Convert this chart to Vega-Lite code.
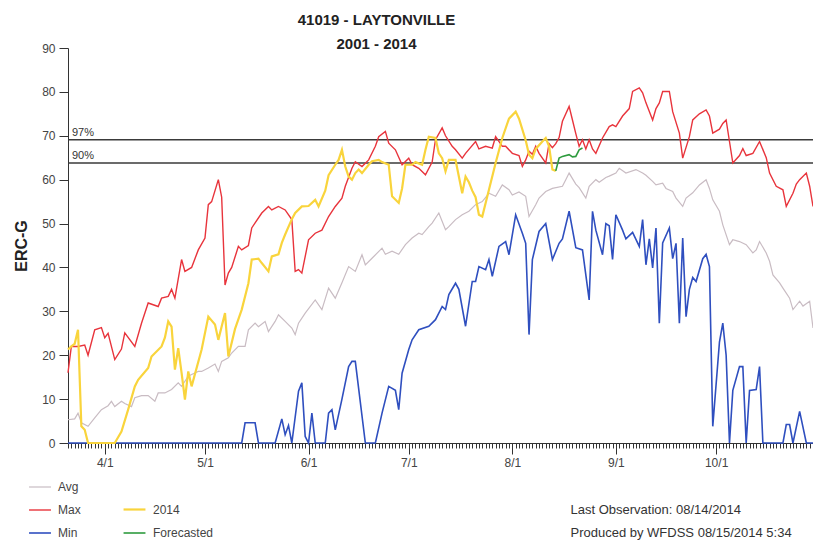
{
  "$schema": "https://vega.github.io/schema/vega-lite/v6.json",
  "width": 745,
  "height": 395,
  "autosize": "none",
  "padding": {"left": 68, "top": 48, "right": 0, "bottom": 98},
  "background": "white",
  "title": {
    "text": ["41019 - LAYTONVILLE", "2001 - 2014"],
    "anchor": "middle",
    "dx": -64,
    "offset": -22,
    "baseline": "alphabetic",
    "lineHeight": 24,
    "fontSize": 15,
    "fontWeight": "bold",
    "color": "#222",
    "font": "Liberation Sans"
  },
  "config": {
    "font": "Liberation Sans",
    "view": {"stroke": null},
    "axis": {"grid": false, "labelFont": "Liberation Sans", "titleFont": "Liberation Sans"},
    "legend": {"labelFont": "Liberation Sans"}
  },
  "datasets": {
    "a": [
      {"s":"Avg","d":"2014-03-21","v":5.3},{"s":"Avg","d":"2014-03-23","v":5.5},{"s":"Avg","d":"2014-03-24","v":6.8},{"s":"Avg","d":"2014-03-25","v":4.6},{"s":"Avg","d":"2014-03-27","v":3.8},{"s":"Avg","d":"2014-03-29","v":5.7},{"s":"Avg","d":"2014-03-31","v":7.6},{"s":"Avg","d":"2014-04-02","v":8.5},{"s":"Avg","d":"2014-04-03","v":9.5},{"s":"Avg","d":"2014-04-04","v":8.3},{"s":"Avg","d":"2014-04-06","v":9.5},{"s":"Avg","d":"2014-04-07","v":9},{"s":"Avg","d":"2014-04-09","v":8.3},{"s":"Avg","d":"2014-04-10","v":10.3},{"s":"Avg","d":"2014-04-12","v":10.8},{"s":"Avg","d":"2014-04-14","v":10.8},{"s":"Avg","d":"2014-04-16","v":9.5},{"s":"Avg","d":"2014-04-17","v":11.4},{"s":"Avg","d":"2014-04-19","v":11.4},{"s":"Avg","d":"2014-04-21","v":12.2},{"s":"Avg","d":"2014-04-23","v":13.7},{"s":"Avg","d":"2014-04-24","v":12.9},{"s":"Avg","d":"2014-04-26","v":15.2},{"s":"Avg","d":"2014-04-27","v":15.6},{"s":"Avg","d":"2014-04-29","v":16.3},{"s":"Avg","d":"2014-04-30","v":16.3},{"s":"Avg","d":"2014-05-02","v":17.1},{"s":"Avg","d":"2014-05-04","v":18},{"s":"Avg","d":"2014-05-05","v":16.3},{"s":"Avg","d":"2014-05-06","v":18.6},{"s":"Avg","d":"2014-05-08","v":19.4},{"s":"Avg","d":"2014-05-09","v":20.5},{"s":"Avg","d":"2014-05-11","v":22},{"s":"Avg","d":"2014-05-13","v":22},{"s":"Avg","d":"2014-05-14","v":25.8},{"s":"Avg","d":"2014-05-16","v":27.3},{"s":"Avg","d":"2014-05-17","v":26.5},{"s":"Avg","d":"2014-05-19","v":27.7},{"s":"Avg","d":"2014-05-20","v":25.4},{"s":"Avg","d":"2014-05-22","v":27.7},{"s":"Avg","d":"2014-05-23","v":29.2},{"s":"Avg","d":"2014-05-25","v":27.7},{"s":"Avg","d":"2014-05-27","v":26.2},{"s":"Avg","d":"2014-05-28","v":24.7},{"s":"Avg","d":"2014-05-29","v":27.3},{"s":"Avg","d":"2014-05-31","v":29.6},{"s":"Avg","d":"2014-06-03","v":32.6},{"s":"Avg","d":"2014-06-05","v":30.4},{"s":"Avg","d":"2014-06-07","v":35.3},{"s":"Avg","d":"2014-06-09","v":33},{"s":"Avg","d":"2014-06-11","v":36.5},{"s":"Avg","d":"2014-06-13","v":40.2},{"s":"Avg","d":"2014-06-15","v":39.1},{"s":"Avg","d":"2014-06-17","v":42.9},{"s":"Avg","d":"2014-06-18","v":40.6},{"s":"Avg","d":"2014-06-20","v":42.1},{"s":"Avg","d":"2014-06-23","v":44.4},{"s":"Avg","d":"2014-06-24","v":43},{"s":"Avg","d":"2014-06-26","v":43.7},{"s":"Avg","d":"2014-06-28","v":43},{"s":"Avg","d":"2014-06-30","v":45.2},{"s":"Avg","d":"2014-07-02","v":46.7},{"s":"Avg","d":"2014-07-04","v":47.8},{"s":"Avg","d":"2014-07-05","v":47.5},{"s":"Avg","d":"2014-07-07","v":49.3},{"s":"Avg","d":"2014-07-08","v":50.1},{"s":"Avg","d":"2014-07-10","v":52.4},{"s":"Avg","d":"2014-07-12","v":48.6},{"s":"Avg","d":"2014-07-13","v":49.3},{"s":"Avg","d":"2014-07-15","v":50.9},{"s":"Avg","d":"2014-07-17","v":52},{"s":"Avg","d":"2014-07-19","v":52.8},{"s":"Avg","d":"2014-07-21","v":54.3},{"s":"Avg","d":"2014-07-23","v":55},{"s":"Avg","d":"2014-07-25","v":56.9},{"s":"Avg","d":"2014-07-27","v":56.2},{"s":"Avg","d":"2014-07-29","v":58.8},{"s":"Avg","d":"2014-07-31","v":57.7},{"s":"Avg","d":"2014-08-01","v":56.5},{"s":"Avg","d":"2014-08-03","v":57.2},{"s":"Avg","d":"2014-08-05","v":56.2},{"s":"Avg","d":"2014-08-06","v":51.6},{"s":"Avg","d":"2014-08-08","v":54.3},{"s":"Avg","d":"2014-08-09","v":55.8},{"s":"Avg","d":"2014-08-11","v":57.3},{"s":"Avg","d":"2014-08-13","v":58},{"s":"Avg","d":"2014-08-16","v":58.5},{"s":"Avg","d":"2014-08-17","v":60},{"s":"Avg","d":"2014-08-18","v":61.5},{"s":"Avg","d":"2014-08-20","v":59},{"s":"Avg","d":"2014-08-21","v":58.2},{"s":"Avg","d":"2014-08-23","v":55.8},{"s":"Avg","d":"2014-08-24","v":58.5},{"s":"Avg","d":"2014-08-26","v":60},{"s":"Avg","d":"2014-08-27","v":59.4},{"s":"Avg","d":"2014-08-29","v":60.5},{"s":"Avg","d":"2014-08-30","v":60.8},{"s":"Avg","d":"2014-09-01","v":61.5},{"s":"Avg","d":"2014-09-02","v":62.6},{"s":"Avg","d":"2014-09-04","v":61.5},{"s":"Avg","d":"2014-09-07","v":62.3},{"s":"Avg","d":"2014-09-09","v":61.5},{"s":"Avg","d":"2014-09-10","v":61},{"s":"Avg","d":"2014-09-12","v":59.6},{"s":"Avg","d":"2014-09-13","v":58.8},{"s":"Avg","d":"2014-09-15","v":59.2},{"s":"Avg","d":"2014-09-16","v":58},{"s":"Avg","d":"2014-09-18","v":57.3},{"s":"Avg","d":"2014-09-19","v":55.8},{"s":"Avg","d":"2014-09-21","v":53.9},{"s":"Avg","d":"2014-09-22","v":55.8},{"s":"Avg","d":"2014-09-24","v":57},{"s":"Avg","d":"2014-09-26","v":58.8},{"s":"Avg","d":"2014-09-28","v":60},{"s":"Avg","d":"2014-09-29","v":58},{"s":"Avg","d":"2014-09-30","v":55.4},{"s":"Avg","d":"2014-10-02","v":52.8},{"s":"Avg","d":"2014-10-03","v":49.7},{"s":"Avg","d":"2014-10-05","v":45.2},{"s":"Avg","d":"2014-10-06","v":46.3},{"s":"Avg","d":"2014-10-08","v":45.9},{"s":"Avg","d":"2014-10-10","v":45.2},{"s":"Avg","d":"2014-10-12","v":43.3},{"s":"Avg","d":"2014-10-13","v":44},{"s":"Avg","d":"2014-10-14","v":45.9},{"s":"Avg","d":"2014-10-16","v":43.3},{"s":"Avg","d":"2014-10-17","v":41.4},{"s":"Avg","d":"2014-10-18","v":38.3},{"s":"Avg","d":"2014-10-20","v":36.5},{"s":"Avg","d":"2014-10-21","v":35.3},{"s":"Avg","d":"2014-10-23","v":33},{"s":"Avg","d":"2014-10-24","v":30.4},{"s":"Avg","d":"2014-10-26","v":32.3},{"s":"Avg","d":"2014-10-27","v":31.2},{"s":"Avg","d":"2014-10-29","v":32.3},{"s":"Avg","d":"2014-10-30","v":26.2},
      {"s":"Min","d":"2014-03-21","v":0},{"s":"Min","d":"2014-05-12","v":0},{"s":"Min","d":"2014-05-13","v":4.6},{"s":"Min","d":"2014-05-16","v":4.6},{"s":"Min","d":"2014-05-17","v":0},{"s":"Min","d":"2014-05-22","v":0},{"s":"Min","d":"2014-05-24","v":5.5},{"s":"Min","d":"2014-05-25","v":1.9},{"s":"Min","d":"2014-05-26","v":4},{"s":"Min","d":"2014-05-27","v":0},{"s":"Min","d":"2014-05-29","v":11.8},{"s":"Min","d":"2014-05-30","v":13.7},{"s":"Min","d":"2014-05-31","v":1.5},{"s":"Min","d":"2014-06-01","v":0},{"s":"Min","d":"2014-06-02","v":6.8},{"s":"Min","d":"2014-06-03","v":0},{"s":"Min","d":"2014-06-06","v":0},{"s":"Min","d":"2014-06-07","v":6.8},{"s":"Min","d":"2014-06-08","v":7.6},{"s":"Min","d":"2014-06-09","v":3},{"s":"Min","d":"2014-06-11","v":10},{"s":"Min","d":"2014-06-13","v":17.4},{"s":"Min","d":"2014-06-14","v":18.6},{"s":"Min","d":"2014-06-15","v":18.6},{"s":"Min","d":"2014-06-18","v":0},{"s":"Min","d":"2014-06-21","v":0},{"s":"Min","d":"2014-06-23","v":6.8},{"s":"Min","d":"2014-06-25","v":12.9},{"s":"Min","d":"2014-06-27","v":12},{"s":"Min","d":"2014-06-28","v":7.6},{"s":"Min","d":"2014-06-29","v":15.9},{"s":"Min","d":"2014-07-01","v":21.3},{"s":"Min","d":"2014-07-02","v":23.5},{"s":"Min","d":"2014-07-04","v":25.8},{"s":"Min","d":"2014-07-07","v":26.6},{"s":"Min","d":"2014-07-09","v":28.1},{"s":"Min","d":"2014-07-11","v":31.1},{"s":"Min","d":"2014-07-12","v":30.4},{"s":"Min","d":"2014-07-13","v":33.8},{"s":"Min","d":"2014-07-15","v":36.4},{"s":"Min","d":"2014-07-16","v":35},{"s":"Min","d":"2014-07-18","v":26.6},{"s":"Min","d":"2014-07-20","v":36.8},{"s":"Min","d":"2014-07-21","v":36.8},{"s":"Min","d":"2014-07-22","v":40.2},{"s":"Min","d":"2014-07-24","v":39.5},{"s":"Min","d":"2014-07-25","v":41.8},{"s":"Min","d":"2014-07-26","v":38},{"s":"Min","d":"2014-07-28","v":44.8},{"s":"Min","d":"2014-07-30","v":45.9},{"s":"Min","d":"2014-07-31","v":42.9},{"s":"Min","d":"2014-08-02","v":52},{"s":"Min","d":"2014-08-04","v":47.8},{"s":"Min","d":"2014-08-05","v":45.5},{"s":"Min","d":"2014-08-06","v":24.7},{"s":"Min","d":"2014-08-07","v":41.8},{"s":"Min","d":"2014-08-09","v":48.2},{"s":"Min","d":"2014-08-11","v":50},{"s":"Min","d":"2014-08-13","v":41.8},{"s":"Min","d":"2014-08-15","v":45.5},{"s":"Min","d":"2014-08-16","v":46.5},{"s":"Min","d":"2014-08-18","v":52.8},{"s":"Min","d":"2014-08-20","v":44.5},{"s":"Min","d":"2014-08-22","v":44},{"s":"Min","d":"2014-08-24","v":32.6},{"s":"Min","d":"2014-08-25","v":52.8},{"s":"Min","d":"2014-08-26","v":48.5},{"s":"Min","d":"2014-08-28","v":42.9},{"s":"Min","d":"2014-08-29","v":50},{"s":"Min","d":"2014-08-30","v":49.5},{"s":"Min","d":"2014-08-31","v":41.8},{"s":"Min","d":"2014-09-01","v":52},{"s":"Min","d":"2014-09-03","v":48.5},{"s":"Min","d":"2014-09-04","v":46.5},{"s":"Min","d":"2014-09-06","v":48},{"s":"Min","d":"2014-09-08","v":44.8},{"s":"Min","d":"2014-09-09","v":50.9},{"s":"Min","d":"2014-09-10","v":40.6},{"s":"Min","d":"2014-09-11","v":46.5},{"s":"Min","d":"2014-09-12","v":39.9},{"s":"Min","d":"2014-09-13","v":49},{"s":"Min","d":"2014-09-14","v":27.3},{"s":"Min","d":"2014-09-15","v":45.6},{"s":"Min","d":"2014-09-17","v":49},{"s":"Min","d":"2014-09-18","v":42},{"s":"Min","d":"2014-09-19","v":45.5},{"s":"Min","d":"2014-09-20","v":27.3},{"s":"Min","d":"2014-09-21","v":46.7},{"s":"Min","d":"2014-09-22","v":28.8},{"s":"Min","d":"2014-09-23","v":35},{"s":"Min","d":"2014-09-24","v":37.7},{"s":"Min","d":"2014-09-25","v":36.8},{"s":"Min","d":"2014-09-27","v":42},{"s":"Min","d":"2014-09-28","v":43},{"s":"Min","d":"2014-09-29","v":40.2},{"s":"Min","d":"2014-09-30","v":3.8},{"s":"Min","d":"2014-10-02","v":23},{"s":"Min","d":"2014-10-03","v":27.3},{"s":"Min","d":"2014-10-04","v":20},{"s":"Min","d":"2014-10-05","v":0},{"s":"Min","d":"2014-10-06","v":12},{"s":"Min","d":"2014-10-08","v":17.4},{"s":"Min","d":"2014-10-09","v":17.4},{"s":"Min","d":"2014-10-10","v":0},{"s":"Min","d":"2014-10-11","v":12},{"s":"Min","d":"2014-10-13","v":12.2},{"s":"Min","d":"2014-10-14","v":17.4},{"s":"Min","d":"2014-10-15","v":0},{"s":"Min","d":"2014-10-21","v":0},{"s":"Min","d":"2014-10-22","v":4.2},{"s":"Min","d":"2014-10-23","v":4.2},{"s":"Min","d":"2014-10-24","v":0},{"s":"Min","d":"2014-10-26","v":7.2},{"s":"Min","d":"2014-10-28","v":0},{"s":"Min","d":"2014-10-30","v":0},
      {"s":"Max","d":"2014-03-21","v":16},{"s":"Max","d":"2014-03-22","v":22},{"s":"Max","d":"2014-03-24","v":22},{"s":"Max","d":"2014-03-26","v":22.3},{"s":"Max","d":"2014-03-27","v":20},{"s":"Max","d":"2014-03-29","v":25.8},{"s":"Max","d":"2014-03-31","v":26.3},{"s":"Max","d":"2014-04-01","v":24},{"s":"Max","d":"2014-04-02","v":25},{"s":"Max","d":"2014-04-04","v":19},{"s":"Max","d":"2014-04-06","v":21.4},{"s":"Max","d":"2014-04-07","v":25.1},{"s":"Max","d":"2014-04-10","v":22},{"s":"Max","d":"2014-04-12","v":27.3},{"s":"Max","d":"2014-04-14","v":31.9},{"s":"Max","d":"2014-04-17","v":31.1},{"s":"Max","d":"2014-04-18","v":33},{"s":"Max","d":"2014-04-20","v":33.4},{"s":"Max","d":"2014-04-21","v":35},{"s":"Max","d":"2014-04-22","v":33},{"s":"Max","d":"2014-04-24","v":41.8},{"s":"Max","d":"2014-04-25","v":39.1},{"s":"Max","d":"2014-04-27","v":40},{"s":"Max","d":"2014-04-29","v":44},{"s":"Max","d":"2014-05-01","v":46.7},{"s":"Max","d":"2014-05-02","v":54.3},{"s":"Max","d":"2014-05-03","v":55},{"s":"Max","d":"2014-05-05","v":60},{"s":"Max","d":"2014-05-06","v":56},{"s":"Max","d":"2014-05-07","v":36},{"s":"Max","d":"2014-05-08","v":38.7},{"s":"Max","d":"2014-05-09","v":40},{"s":"Max","d":"2014-05-11","v":44.8},{"s":"Max","d":"2014-05-12","v":44},{"s":"Max","d":"2014-05-14","v":45},{"s":"Max","d":"2014-05-15","v":49},{"s":"Max","d":"2014-05-18","v":52.4},{"s":"Max","d":"2014-05-20","v":53.9},{"s":"Max","d":"2014-05-21","v":53.1},{"s":"Max","d":"2014-05-23","v":53.9},{"s":"Max","d":"2014-05-25","v":53.1},{"s":"Max","d":"2014-05-27","v":50.9},{"s":"Max","d":"2014-05-28","v":39.1},{"s":"Max","d":"2014-05-29","v":39.5},{"s":"Max","d":"2014-05-30","v":38.7},{"s":"Max","d":"2014-06-01","v":46.3},{"s":"Max","d":"2014-06-03","v":47.8},{"s":"Max","d":"2014-06-05","v":48.5},{"s":"Max","d":"2014-06-07","v":51.6},{"s":"Max","d":"2014-06-09","v":53.9},{"s":"Max","d":"2014-06-11","v":55.8},{"s":"Max","d":"2014-06-12","v":58.5},{"s":"Max","d":"2014-06-14","v":62.6},{"s":"Max","d":"2014-06-15","v":64.1},{"s":"Max","d":"2014-06-17","v":63},{"s":"Max","d":"2014-06-19","v":64.5},{"s":"Max","d":"2014-06-21","v":67.6},{"s":"Max","d":"2014-06-22","v":69.8},{"s":"Max","d":"2014-06-24","v":71},{"s":"Max","d":"2014-06-25","v":68.3},{"s":"Max","d":"2014-06-27","v":66.8},{"s":"Max","d":"2014-06-29","v":63.4},{"s":"Max","d":"2014-07-01","v":64.9},{"s":"Max","d":"2014-07-02","v":63.4},{"s":"Max","d":"2014-07-04","v":62.6},{"s":"Max","d":"2014-07-06","v":61.1},{"s":"Max","d":"2014-07-08","v":64},{"s":"Max","d":"2014-07-09","v":69.1},{"s":"Max","d":"2014-07-11","v":71.8},{"s":"Max","d":"2014-07-12","v":70},{"s":"Max","d":"2014-07-14","v":67.6},{"s":"Max","d":"2014-07-15","v":66.8},{"s":"Max","d":"2014-07-17","v":64.9},{"s":"Max","d":"2014-07-18","v":66},{"s":"Max","d":"2014-07-21","v":68.7},{"s":"Max","d":"2014-07-22","v":67},{"s":"Max","d":"2014-07-24","v":67.6},{"s":"Max","d":"2014-07-26","v":67.2},{"s":"Max","d":"2014-07-27","v":69.8},{"s":"Max","d":"2014-07-29","v":67.6},{"s":"Max","d":"2014-07-30","v":67.6},{"s":"Max","d":"2014-08-01","v":66},{"s":"Max","d":"2014-08-03","v":65.5},{"s":"Max","d":"2014-08-04","v":63},{"s":"Max","d":"2014-08-05","v":64.5},{"s":"Max","d":"2014-08-06","v":66.5},{"s":"Max","d":"2014-08-07","v":65.8},{"s":"Max","d":"2014-08-08","v":67.6},{"s":"Max","d":"2014-08-09","v":66},{"s":"Max","d":"2014-08-11","v":63.8},{"s":"Max","d":"2014-08-12","v":68.2},{"s":"Max","d":"2014-08-13","v":67.3},{"s":"Max","d":"2014-08-14","v":68.2},{"s":"Max","d":"2014-08-15","v":69.6},{"s":"Max","d":"2014-08-16","v":73.3},{"s":"Max","d":"2014-08-18","v":76.7},{"s":"Max","d":"2014-08-19","v":73.6},{"s":"Max","d":"2014-08-20","v":70.5},{"s":"Max","d":"2014-08-21","v":67.6},{"s":"Max","d":"2014-08-22","v":69.1},{"s":"Max","d":"2014-08-23","v":67},{"s":"Max","d":"2014-08-24","v":69.1},{"s":"Max","d":"2014-08-25","v":67},{"s":"Max","d":"2014-08-26","v":66},{"s":"Max","d":"2014-08-28","v":69.5},{"s":"Max","d":"2014-08-30","v":72.1},{"s":"Max","d":"2014-08-31","v":72.5},{"s":"Max","d":"2014-09-01","v":72.1},{"s":"Max","d":"2014-09-03","v":74.5},{"s":"Max","d":"2014-09-05","v":76.2},{"s":"Max","d":"2014-09-06","v":80.1},{"s":"Max","d":"2014-09-08","v":80.9},{"s":"Max","d":"2014-09-09","v":79.8},{"s":"Max","d":"2014-09-10","v":77.5},{"s":"Max","d":"2014-09-12","v":73.6},{"s":"Max","d":"2014-09-13","v":76.2},{"s":"Max","d":"2014-09-14","v":77.5},{"s":"Max","d":"2014-09-15","v":80.1},{"s":"Max","d":"2014-09-17","v":80.1},{"s":"Max","d":"2014-09-18","v":75.5},{"s":"Max","d":"2014-09-20","v":70.6},{"s":"Max","d":"2014-09-21","v":64.9},{"s":"Max","d":"2014-09-23","v":69.8},{"s":"Max","d":"2014-09-24","v":73.6},{"s":"Max","d":"2014-09-26","v":75},{"s":"Max","d":"2014-09-28","v":75.9},{"s":"Max","d":"2014-09-29","v":74.5},{"s":"Max","d":"2014-09-30","v":70.6},{"s":"Max","d":"2014-10-02","v":71.5},{"s":"Max","d":"2014-10-03","v":72.8},{"s":"Max","d":"2014-10-04","v":73.6},{"s":"Max","d":"2014-10-05","v":68.7},{"s":"Max","d":"2014-10-06","v":63.8},{"s":"Max","d":"2014-10-08","v":65.5},{"s":"Max","d":"2014-10-09","v":67.1},{"s":"Max","d":"2014-10-10","v":65.5},{"s":"Max","d":"2014-10-12","v":66},{"s":"Max","d":"2014-10-14","v":68.7},{"s":"Max","d":"2014-10-16","v":65},{"s":"Max","d":"2014-10-17","v":61.5},{"s":"Max","d":"2014-10-19","v":58.5},{"s":"Max","d":"2014-10-21","v":57.7},{"s":"Max","d":"2014-10-22","v":53.9},{"s":"Max","d":"2014-10-24","v":56.9},{"s":"Max","d":"2014-10-25","v":59},{"s":"Max","d":"2014-10-26","v":60},{"s":"Max","d":"2014-10-28","v":61.5},{"s":"Max","d":"2014-10-29","v":58.5},{"s":"Max","d":"2014-10-30","v":53.9}
    ],
    "b": [
      {"s":"2014","d":"2014-03-21","v":21.3},{"s":"2014","d":"2014-03-22","v":22},{"s":"2014","d":"2014-03-23","v":22.6},{"s":"2014","d":"2014-03-24","v":25.8},{"s":"2014","d":"2014-03-25","v":3.8},{"s":"2014","d":"2014-03-26","v":3},{"s":"2014","d":"2014-03-27","v":0},{"s":"2014","d":"2014-04-04","v":0},{"s":"2014","d":"2014-04-06","v":2.6},{"s":"2014","d":"2014-04-08","v":7.6},{"s":"2014","d":"2014-04-10","v":12.9},{"s":"2014","d":"2014-04-11","v":14.4},{"s":"2014","d":"2014-04-14","v":17.1},{"s":"2014","d":"2014-04-15","v":19.7},{"s":"2014","d":"2014-04-18","v":22},{"s":"2014","d":"2014-04-19","v":24},{"s":"2014","d":"2014-04-20","v":27.7},{"s":"2014","d":"2014-04-21","v":26.5},{"s":"2014","d":"2014-04-22","v":16.7},{"s":"2014","d":"2014-04-23","v":21.6},{"s":"2014","d":"2014-04-24","v":16},{"s":"2014","d":"2014-04-25","v":9.9},{"s":"2014","d":"2014-04-26","v":16.3},{"s":"2014","d":"2014-04-27","v":12.9},{"s":"2014","d":"2014-04-30","v":21.3},{"s":"2014","d":"2014-05-02","v":28.8},{"s":"2014","d":"2014-05-04","v":27},{"s":"2014","d":"2014-05-05","v":23.5},{"s":"2014","d":"2014-05-07","v":29.6},{"s":"2014","d":"2014-05-08","v":19.7},{"s":"2014","d":"2014-05-10","v":26},{"s":"2014","d":"2014-05-12","v":30.4},{"s":"2014","d":"2014-05-14","v":36.4},{"s":"2014","d":"2014-05-15","v":41.8},{"s":"2014","d":"2014-05-17","v":42},{"s":"2014","d":"2014-05-18","v":41},{"s":"2014","d":"2014-05-20","v":39.1},{"s":"2014","d":"2014-05-21","v":42.5},{"s":"2014","d":"2014-05-23","v":43},{"s":"2014","d":"2014-05-24","v":45.6},{"s":"2014","d":"2014-05-25","v":47.5},{"s":"2014","d":"2014-05-27","v":51},{"s":"2014","d":"2014-05-28","v":52.4},{"s":"2014","d":"2014-05-30","v":53.9},{"s":"2014","d":"2014-06-01","v":54},{"s":"2014","d":"2014-06-03","v":55.4},{"s":"2014","d":"2014-06-04","v":53.9},{"s":"2014","d":"2014-06-06","v":57.5},{"s":"2014","d":"2014-06-07","v":61},{"s":"2014","d":"2014-06-09","v":63.4},{"s":"2014","d":"2014-06-10","v":64.5},{"s":"2014","d":"2014-06-11","v":66.8},{"s":"2014","d":"2014-06-12","v":63},{"s":"2014","d":"2014-06-13","v":60.7},{"s":"2014","d":"2014-06-14","v":60},{"s":"2014","d":"2014-06-15","v":61.5},{"s":"2014","d":"2014-06-16","v":62.3},{"s":"2014","d":"2014-06-17","v":61.5},{"s":"2014","d":"2014-06-19","v":63.4},{"s":"2014","d":"2014-06-20","v":64.2},{"s":"2014","d":"2014-06-22","v":64.5},{"s":"2014","d":"2014-06-23","v":64},{"s":"2014","d":"2014-06-25","v":63.4},{"s":"2014","d":"2014-06-26","v":56.2},{"s":"2014","d":"2014-06-28","v":54.7},{"s":"2014","d":"2014-06-29","v":58},{"s":"2014","d":"2014-06-30","v":63.4},{"s":"2014","d":"2014-07-02","v":63.4},{"s":"2014","d":"2014-07-03","v":64},{"s":"2014","d":"2014-07-05","v":63.4},{"s":"2014","d":"2014-07-06","v":66.8},{"s":"2014","d":"2014-07-07","v":69.8},{"s":"2014","d":"2014-07-09","v":69.5},{"s":"2014","d":"2014-07-10","v":66},{"s":"2014","d":"2014-07-11","v":64.9},{"s":"2014","d":"2014-07-12","v":61.9},{"s":"2014","d":"2014-07-13","v":64.5},{"s":"2014","d":"2014-07-15","v":64.5},{"s":"2014","d":"2014-07-17","v":56.9},{"s":"2014","d":"2014-07-18","v":60.7},{"s":"2014","d":"2014-07-19","v":59.4},{"s":"2014","d":"2014-07-20","v":57.5},{"s":"2014","d":"2014-07-21","v":56},{"s":"2014","d":"2014-07-22","v":52},{"s":"2014","d":"2014-07-23","v":51.6},{"s":"2014","d":"2014-07-25","v":57.7},{"s":"2014","d":"2014-07-27","v":63.8},{"s":"2014","d":"2014-07-29","v":69.5},{"s":"2014","d":"2014-07-31","v":73.9},{"s":"2014","d":"2014-08-02","v":75.5},{"s":"2014","d":"2014-08-03","v":73.9},{"s":"2014","d":"2014-08-05","v":69},{"s":"2014","d":"2014-08-06","v":65.7},{"s":"2014","d":"2014-08-07","v":64.9},{"s":"2014","d":"2014-08-08","v":67},{"s":"2014","d":"2014-08-10","v":68.7},{"s":"2014","d":"2014-08-11","v":69.5},{"s":"2014","d":"2014-08-12","v":67.6},{"s":"2014","d":"2014-08-13","v":62.3},{"s":"2014","d":"2014-08-14","v":62},
      {"s":"Forecasted","d":"2014-08-14","v":62},{"s":"Forecasted","d":"2014-08-15","v":64.9},{"s":"Forecasted","d":"2014-08-16","v":65.3},{"s":"Forecasted","d":"2014-08-18","v":65.7},{"s":"Forecasted","d":"2014-08-19","v":65.2},{"s":"Forecasted","d":"2014-08-20","v":65.3},{"s":"Forecasted","d":"2014-08-21","v":66.8},{"s":"Forecasted","d":"2014-08-22","v":67.2}
    ],
    "p": [
      {"p":"97%","d":"2014-03-21","v":69.1},
      {"p":"90%","d":"2014-03-21","v":63.8}
    ]
  },
  "layer": [
    {
      "data": {"name": "p"},
      "mark": {"type": "rule", "color": "#3a3a3a", "strokeWidth": 1.4},
      "encoding": {
        "y": {"field": "v", "type": "quantitative", "scale": {"domain": [0, 90]}}
      }
    },
    {
      "data": {"name": "p"},
      "mark": {"type": "text", "align": "left", "baseline": "bottom", "dx": 4, "dy": -2, "fontSize": 11, "color": "#333"},
      "encoding": {
        "x": {"field": "d", "type": "temporal", "axis": null},
        "y": {"field": "v", "type": "quantitative"},
        "text": {"field": "p"}
      }
    },
    {
      "data": {"name": "a"},
      "mark": {"type": "line", "interpolate": "linear"},
      "encoding": {
        "x": {
          "field": "d", "type": "temporal",
          "scale": {"type": "utc", "domain": [{"year": 2014, "month": 3, "date": 21, "utc": true}, {"year": 2014, "month": 10, "date": 30, "utc": true}]},
          "axis": {"orient": "bottom", "tickCount": {"interval": "day", "step": 1}, "labels": false, "tickSize": 5, "tickColor": "#333", "domainColor": "#333", "title": null, "grid": false}
        },
        "y": {
          "field": "v", "type": "quantitative",
          "scale": {"domain": [0, 90]},
          "axis": {"values": [0, 10, 20, 30, 40, 50, 60, 70, 80, 90], "tickSize": 9, "labelPadding": 4, "labelFontSize": 12, "labelColor": "#444", "tickColor": "#333", "domainColor": "#333", "title": "ERC-G", "titleFontSize": 16, "titleFontWeight": "bold", "titleColor": "#222", "titlePadding": 12, "grid": false}
        },
        "color": {
          "field": "s", "type": "nominal",
          "scale": {"domain": ["Avg", "Max", "Min"], "range": ["#c9bcc3", "#e8343c", "#2f4fbf"]},
          "legend": {"orient": "none", "legendX": -40, "legendY": 427, "title": null, "symbolType": "stroke", "symbolSize": 480, "symbolStrokeWidth": 2, "labelFontSize": 12, "labelColor": "#444", "labelOffset": 6, "rowPadding": 5}
        },
        "strokeWidth": {
          "field": "s", "type": "nominal",
          "scale": {"domain": ["Avg", "Max", "Min"], "range": [1.2, 1.6, 1.6]},
          "legend": null
        }
      }
    },
    {
      "data": {"name": "b"},
      "mark": {"type": "line", "interpolate": "linear"},
      "encoding": {
        "x": {
          "field": "d", "type": "temporal",
          "axis": {
            "orient": "bottom",
            "values": [
              {"year": 2014, "month": 4, "date": 1, "utc": true},
              {"year": 2014, "month": 5, "date": 1, "utc": true},
              {"year": 2014, "month": 6, "date": 1, "utc": true},
              {"year": 2014, "month": 7, "date": 1, "utc": true},
              {"year": 2014, "month": 8, "date": 1, "utc": true},
              {"year": 2014, "month": 9, "date": 1, "utc": true},
              {"year": 2014, "month": 10, "date": 1, "utc": true}
            ],
            "format": "%-m/%-d",
            "tickSize": 11, "tickColor": "#333", "domain": false,
            "labelFontSize": 12, "labelColor": "#444", "labelPadding": 3,
            "title": ["Last Observation: 08/14/2014", "Produced by WFDSS 08/15/2014 5:34"],
            "titleX": 502, "titleY": 60, "titleAlign": "left", "titleBaseline": "top", "titleAnchor": "start",
            "titleFontSize": 13, "titleFontWeight": "normal", "titleColor": "#333", "titleLineHeight": 23,
            "grid": false
          }
        },
        "y": {"field": "v", "type": "quantitative"},
        "color": {
          "field": "s", "type": "nominal",
          "scale": {"domain": ["2014", "Forecasted"], "range": ["#f9d43c", "#2e9b3e"]},
          "legend": {"orient": "none", "legendX": 54, "legendY": 449, "title": null, "symbolType": "stroke", "symbolSize": 480, "symbolStrokeWidth": 2, "labelFontSize": 12, "labelColor": "#444", "labelOffset": 6, "rowPadding": 5}
        },
        "strokeWidth": {
          "field": "s", "type": "nominal",
          "scale": {"domain": ["2014", "Forecasted"], "range": [2.2, 1.6]},
          "legend": null
        }
      }
    }
  ],
  "resolve": {
    "scale": {"color": "independent", "strokeWidth": "independent"},
    "axis": {"x": "independent"}
  }
}
